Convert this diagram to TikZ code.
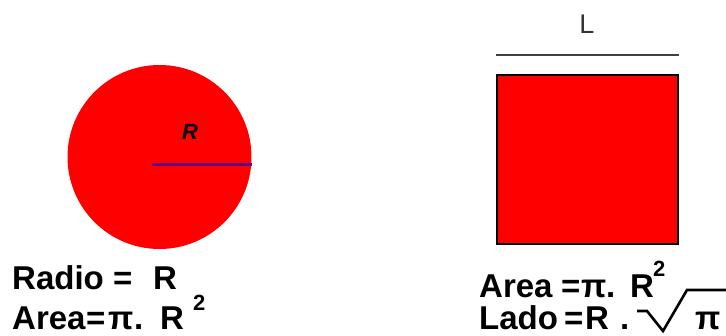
\documentclass[tikz,border=0pt]{standalone}
\usepackage{fontspec}
\setmainfont{Liberation Sans}
\usetikzlibrary{positioning}

\begin{document}
\begin{tikzpicture}[x=1pt, y=-1pt]
\tikzstyle{txt}=[anchor=base west, inner sep=0pt, font=\fontsize{33}{33}\selectfont\bfseries]
\tikzstyle{expo}=[anchor=base west, inner sep=0pt, font=\fontsize{22}{22}\selectfont\bfseries]
\tikzstyle{radius}=[line width=3pt, draw={rgb,255:red,105;green,0;blue,125}]
\useasboundingbox (0,0) rectangle (726,335);
% circulo
\fill[red] (159.5,157) circle (92);
\coordinate (rc) at (152,164);
\coordinate (re) at (252,164);
\draw[radius] (rc) -- (re);
\node[inner sep=0pt, font=\fontsize{22}{22}\selectfont\bfseries\itshape] (rlab) at (190,132) {R};
% cuadrado
\node[draw=black, fill=red, line width=1.8pt, minimum width=181pt, minimum height=169pt, inner sep=0pt, anchor=north west] (sq) at (496,74) {};
\coordinate (la) at ([yshift=19pt]sq.north west);
\coordinate (lb) at ([yshift=19pt]sq.north east);
\draw[line width=1.5pt, black!75] (la) -- (lb);
\node[anchor=base, inner sep=0pt, font=\fontsize{27}{27}\selectfont, black!80] (lado) at (587,33) {L};
% textos circulo
\node[txt] (radio) at (12,289) {Radio};
\node[txt] (eq1) at (113,289) {=};
\node[txt] (r1) at (153,289) {R};
\node[expo] (dos1) at (193,310) {2};
\node[txt] (area1) at (12,329) {Area};
\node[txt] (eq2) at (86,329) {=};
\node[txt] (pi1) at (108,329) {π};
\node[txt] (pt1) at (134,329) {.};
\node[txt] (r2) at (160,329) {R};
% textos cuadrado
\node[txt] (area2) at (479,297) {Area};
\node[txt] (eq3) at (561,297) {=};
\node[txt] (pi2) at (581,297) {π};
\node[txt] (pt2) at (606,297) {.};
\node[txt] (r3) at (630,297) {R};
\node[expo] (dos2) at (653,276) {2};
\node[txt] (lado2) at (479,329) {Lado};
\node[txt] (eq4) at (564,329) {=};
\node[txt] (r4) at (585,329) {R};
\node[txt] (pt3) at (620,329) {.};
\node[txt] (pi3) at (695,329) {π};
% raiz
\draw[line width=2.6pt, miter limit=4] (637,311) -- (647,311) -- (663,331) -- (687,290) -- (730,290);
\end{tikzpicture}
\end{document}
